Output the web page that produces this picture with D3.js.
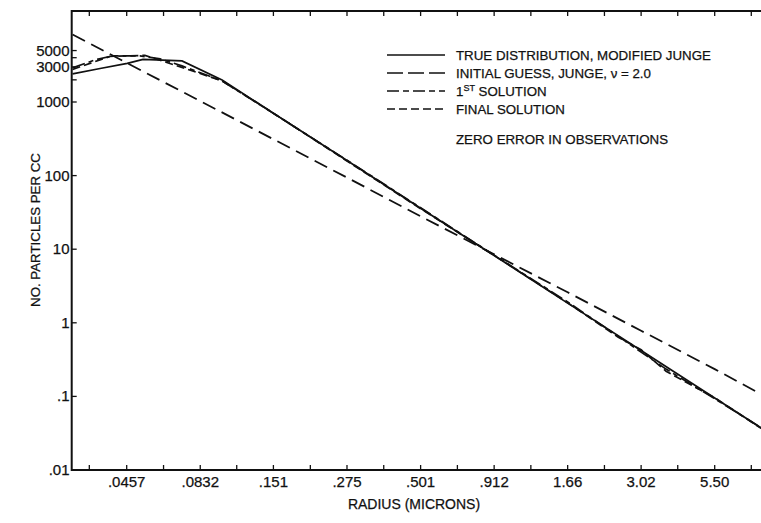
<!DOCTYPE html>
<html>
<head>
<meta charset="utf-8">
<script src="https://cdn.jsdelivr.net/npm/d3@7"></script>
<style>
  html, body { margin: 0; padding: 0; background: #fff; }
  svg { display: block; }
  text { font-family: "Liberation Sans", Arial, sans-serif; fill: #111; stroke: #111; stroke-width: 0.25px; }
</style>
</head>
<body>
<svg id="chart" width="761" height="523"></svg>
<script>
// ---------------- data ----------------
const xTickValues = [0.0457, 0.0832, 0.151, 0.275, 0.501, 0.912, 1.66, 3.02, 5.50];
const xTickLabels = [".0457", ".0832", ".151", ".275", ".501", ".912", "1.66", "3.02", "5.50"];
const xMinorTicks = [0.0337, 0.0617, 0.112, 0.204, 0.371, 0.676, 1.23, 2.24, 4.07, 7.41];

const yTickValues = [5000, 3000, 1000, 100, 10, 1, 0.1, 0.01];
const yTickLabels = ["5000", "3000", "1000", "100", "10", "1", ".1", ".01"];
const yMinorTicks = [2000, 4000];

// True distribution, modified Junge
const trueRadius = [0.0294, 0.0368, 0.0459, 0.0522, 0.0717, 0.0994, 0.151, 0.275, 0.501, 0.912, 1.66, 3.02, 5.50, 8.03];
const trueN      = [2410,   2850,   3345,   3790,   3620,   1996,   705,   160,   36,    8.2,   1.85,  0.42,  0.095, 0.0373];

// Initial guess, Junge, nu = 2.0
const initRadius = [0.0294, 0.0457, 0.0832, 0.151, 0.275, 0.501, 0.912, 1.66, 3.02, 5.50, 8.03];
const initN      = [8250,   3400,   1030,   312,   94,    28,    8.5,   2.6,  0.78, 0.235, 0.107];

// 1st solution
const firstRadius = [0.0294, 0.0353, 0.0406, 0.0509, 0.0600, 0.0717, 0.0994, 0.151, 0.275, 0.501, 0.912, 1.66, 2.5,  3.02, 3.7,  5.50,  8.03];
const firstN      = [2905,   3733,   4230,   4230,   3850,   3094,   1935,   700,   162,   36.5,  8.3,   1.92, 0.66, 0.40, 0.235, 0.093, 0.0375];

// Final solution
const finalRadius = [0.0294, 0.0399, 0.0530, 0.0717, 0.0994, 0.151, 0.275, 0.501, 0.912, 1.66, 2.5,  3.02, 3.7,  5.50,  8.03];
const finalN      = [2770,   4165,   4300,   2950,   1935,   705,   158,   35.5,  8.25,  1.87, 0.64, 0.43, 0.22, 0.096, 0.0368];

const legendLabels = ["TRUE DISTRIBUTION, MODIFIED JUNGE", "INITIAL GUESS, JUNGE, \u03BD = 2.0", "1|ST| SOLUTION", "FINAL SOLUTION"];
const noteLabel = "ZERO ERROR IN OBSERVATIONS";
const xTitle = "RADIUS (MICRONS)";
const yTitle = "NO. PARTICLES PER CC";

// ---------------- layout ----------------
const svg = d3.select("#chart");
const plotLeft = 71.7, plotRight = 761, plotTop = 11, plotBottom = 470;

const x = d3.scaleLog().domain([0.0457, 5.50]).range([126.7, 714.7]);
const y = d3.scaleLog().domain([0.01, 1000]).range([470, 102]);

const ink = "#111";

svg.append("defs").append("clipPath").attr("id", "clip")
  .append("rect").attr("x", plotLeft).attr("y", plotTop)
  .attr("width", plotRight - plotLeft).attr("height", plotBottom - plotTop);

// frame
svg.append("path")
  .attr("d", `M${plotRight},${plotTop}H${plotLeft}V${plotBottom}H${plotRight}`)
  .attr("fill", "none").attr("stroke", ink).attr("stroke-width", 2);

// x ticks (bottom and top, pointing inward)
const allXTicks = xTickValues.concat(xMinorTicks);
const gx = svg.append("g");
gx.selectAll("line.b").data(allXTicks).join("line")
  .attr("x1", d => x(d)).attr("x2", d => x(d))
  .attr("y1", plotBottom).attr("y2", plotBottom - 5)
  .attr("stroke", ink).attr("stroke-width", 1.3);
gx.selectAll("line.t").data(allXTicks.filter(d => x(d) < plotRight)).join("line")
  .attr("x1", d => x(d)).attr("x2", d => x(d))
  .attr("y1", plotTop).attr("y2", plotTop + 5)
  .attr("stroke", ink).attr("stroke-width", 1.3);
gx.selectAll("text").data(xTickValues).join("text")
  .attr("x", d => x(d)).attr("y", 487)
  .attr("text-anchor", "middle").attr("font-size", 15)
  .text((d, i) => xTickLabels[i]);

// y ticks (pointing inward)
const gy = svg.append("g");
gy.selectAll("line.m").data(yTickValues.concat(yMinorTicks)).join("line")
  .attr("x1", plotLeft).attr("x2", plotLeft + 5)
  .attr("y1", d => y(d)).attr("y2", d => y(d))
  .attr("stroke", ink).attr("stroke-width", 1.3);
gy.selectAll("text").data(yTickValues).join("text")
  .attr("x", 69.5).attr("y", d => y(d) + 5)
  .attr("text-anchor", "end").attr("font-size", 15)
  .text((d, i) => yTickLabels[i]);

// axis titles
svg.append("text").attr("x", 414).attr("y", 509)
  .attr("text-anchor", "middle").attr("font-size", 14).text(xTitle);
svg.append("text")
  .attr("transform", "translate(40,230) rotate(-90)")
  .attr("text-anchor", "middle").attr("font-size", 13.3).text(yTitle);

// curves
const line = d3.line().x(d => x(d[0])).y(d => y(d[1]));
const series = [
  { r: trueRadius,  n: trueN,  dash: null,        w: 1.7 },
  { r: initRadius,  n: initN,  dash: "14,7",      w: 1.8 },
  { r: firstRadius, n: firstN, dash: "13,4,5,4",  w: 1.7 },
  { r: finalRadius, n: finalN, dash: "8,4",       w: 1.7 }
];
const gc = svg.append("g").attr("clip-path", "url(#clip)");
series.forEach(s => {
  gc.append("path")
    .datum(s.r.map((r, i) => [r, s.n[i]]))
    .attr("d", line)
    .attr("fill", "none").attr("stroke", ink)
    .attr("stroke-width", s.w)
    .attr("stroke-dasharray", s.dash);
});

// legend
const legRows = [55, 73, 91, 109];
const legend = svg.append("g");
series.forEach((s, i) => {
  legend.append("line")
    .attr("x1", 387).attr("x2", 445)
    .attr("y1", legRows[i]).attr("y2", legRows[i])
    .attr("stroke", ink).attr("stroke-width", 1.6)
    .attr("stroke-dasharray", i === 1 ? "16,5" : i === 2 ? "12,4,6,4" : s.dash);
  const t = legend.append("text").attr("x", 456).attr("y", legRows[i] + 5)
    .attr("font-size", 13.3);
  const parts = legendLabels[i].split("|");
  if (parts.length === 3) {
    t.append("tspan").text(parts[0]);
    t.append("tspan").attr("font-size", 9).attr("dy", -5).text(parts[1]);
    t.append("tspan").attr("dy", 5).text(parts[2]);
  } else {
    t.text(legendLabels[i]);
  }
});
legend.append("text").attr("x", 456).attr("y", 144)
  .attr("font-size", 13.3).text(noteLabel);
</script>
</body>
</html>
